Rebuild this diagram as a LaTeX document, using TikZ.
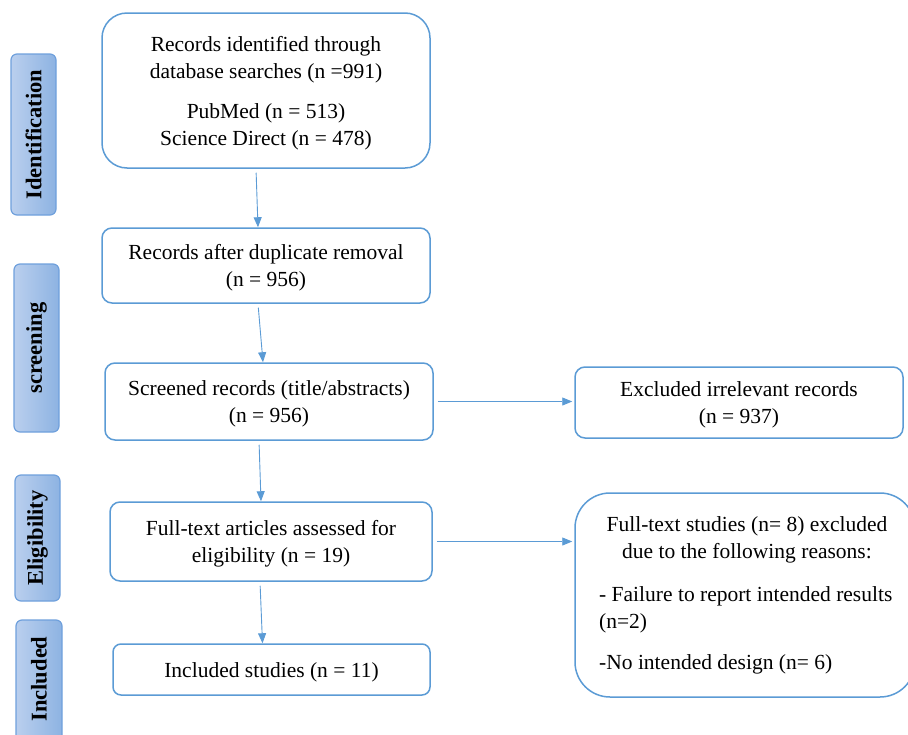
\documentclass[tikz,border=0pt]{standalone}
\usepackage{fontspec}
\setmainfont{Liberation Serif}
\usetikzlibrary{arrows.meta,calc}
\definecolor{bline}{HTML}{5B9BD5}
\definecolor{slight}{HTML}{BACFEE}
\definecolor{sdark}{HTML}{8DB3E2}
\definecolor{sline}{HTML}{6FA0DC}
\begin{document}
\begin{tikzpicture}[x=1pt,y=-1pt,
  box/.style={draw=bline, line width=1.5pt, fill=white, inner sep=0pt, align=center,
    font=\fontsize{21.5}{27}\selectfont},
  txt/.style={inner sep=0pt, font=\fontsize{21.5}{27}\selectfont},
  side/.style={draw=sline, line width=1.2pt, rounded corners=6pt, left color=slight, right color=sdark, inner sep=0pt},
  sidetxt/.style={rotate=90, inner sep=0pt, font=\fontsize{22.5}{26}\selectfont\bfseries},
  arr/.style={draw=bline, line width=0.9pt, -{Triangle[length=10pt,width=8pt]}}
]
\useasboundingbox (0,0) rectangle (908,734);

% side labels
\node[side, minimum width=45pt, minimum height=161pt] (s1) at (33.5,134.5) {};
\node[sidetxt] (s1t) at (s1) {Identification};
\node[side, minimum width=45pt, minimum height=168pt] (s2) at (36.5,348) {};
\node[sidetxt] (s2t) at (s2) {screening};
\node[side, minimum width=45pt, minimum height=126pt] (s3) at (37.5,538) {};
\node[sidetxt] (s3t) at (s3) {Eligibility};
\node[side, minimum width=46pt, minimum height=124pt] (s4) at (39,682) {};
\node[sidetxt] (s4t) at (39,679) {Included};

% main boxes
\node[box, rounded corners=25pt, minimum width=328pt, minimum height=155pt] (b1) at (266,90.5)
  {\rule{0pt}{20pt}Records identified through\\database searches (n =991)\\[13pt]PubMed (n = 513)\\Science Direct (n = 478)};
\node[box, rounded corners=10pt, minimum width=328pt, minimum height=75pt] (b2) at (266,265.5)
  {\rule{0pt}{20pt}Records after duplicate removal\\(n = 956)};
\node[box, rounded corners=10pt, minimum width=328pt, minimum height=77pt] (b3) at (269,401.5)
  {\rule{0pt}{20pt}Screened records (title/abstracts)\\(n = 956)};
\node[box, rounded corners=10pt, minimum width=328pt, minimum height=71pt] (b4) at (739,402.5)
  {\rule{0pt}{20pt}Excluded irrelevant records\\(n = 937)};
\node[box, rounded corners=10pt, minimum width=322pt, minimum height=79pt] (b5) at (271,541.5)
  {\rule{0pt}{20pt}Full-text articles assessed for\\eligibility (n = 19)};
\node[box, rounded corners=35pt, minimum width=340pt, minimum height=204pt] (b6) at (745,595) {};
\node[txt, align=center] (b6a) at (747,540)
  {Full-text studies (n= 8) excluded\\due to the following reasons:};
\node[txt, align=left, anchor=west] (b6b) at (599,630)
  {- Failure to report intended results\\(n=2)\\[14pt]-No intended design (n= 6)};
\node[box, rounded corners=8pt, minimum width=317pt, minimum height=51pt] (b7) at (271.5,669.5)
  {\rule{0pt}{20pt}Included studies (n = 11)};

% connectors
\draw[arr, shorten <=4pt] ([xshift=-10pt]b1.south) -- ([xshift=-8pt]b2.north);
\draw[arr, shorten <=4pt] ([xshift=-8pt]b2.south) -- ([xshift=-6pt]b3.north);
\draw[arr, shorten <=4pt, shorten >=2pt] (b3.east) -- (b3.east -| b4.west);
\draw[arr, shorten <=4pt] ([xshift=-10pt]b3.south) -- ([xshift=-10pt]b5.north);
\draw[arr, shorten <=4pt, shorten >=2pt] (b5.east) -- (b5.east -| b6.west);
\draw[arr, shorten <=4pt] ([xshift=-11pt]b5.south) -- ([xshift=-9pt]b7.north);
\end{tikzpicture}
\end{document}
